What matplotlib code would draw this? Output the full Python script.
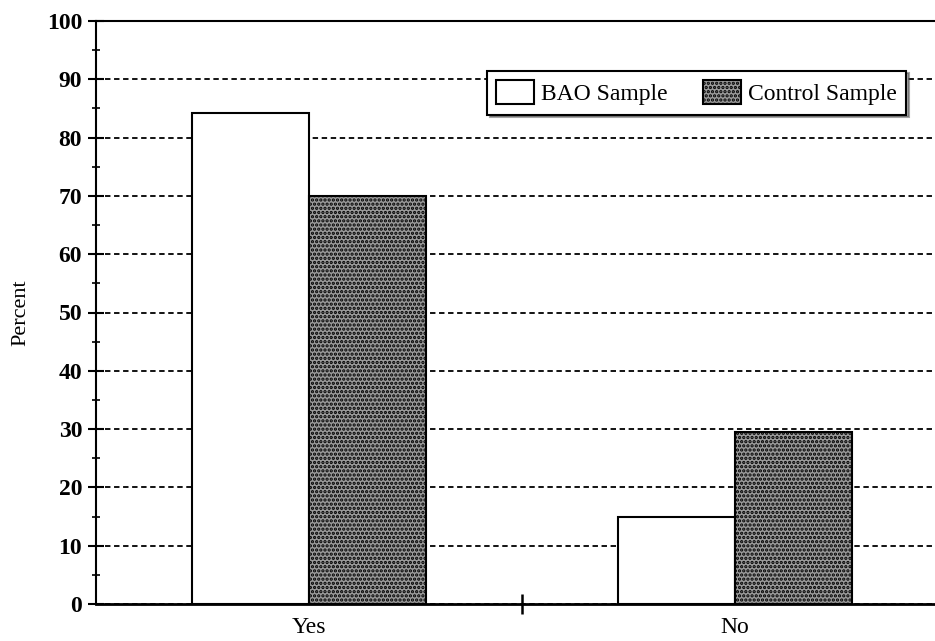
import matplotlib
matplotlib.use("Agg")
import matplotlib.pyplot as plt
from matplotlib.ticker import MultipleLocator

categories = ["Yes", "No"]
bao_sample = [84.3, 14.9]
control_sample = [70.0, 29.5]
series_labels = ["BAO Sample", "Control Sample"]
y_ticks = [0, 10, 20, 30, 40, 50, 60, 70, 80, 90, 100]

plt.rcParams["font.family"] = ["Liberation Serif", "DejaVu Serif"]
plt.rcParams["hatch.linewidth"] = 1.6

fig = plt.figure(figsize=(9.35, 6.41), dpi=100)
ax = fig.add_axes([96 / 935, 37 / 641, 1 - 96 / 935, 583 / 641])

w = 0.275
x = list(range(len(categories)))
ax.bar([i - w / 2 for i in x], bao_sample, width=w, color="white",
       edgecolor="black", linewidth=1.5, label=series_labels[0], zorder=3)
ax.bar([i + w / 2 for i in x], control_sample, width=w, color="#9a9a9a",
       edgecolor="black", hatch="....", linewidth=1.5,
       label=series_labels[1], zorder=3)

ax.set_xlim(-0.5, 1.47)
ax.set_ylim(0, 100)
ax.set_yticks(y_ticks)
ax.yaxis.set_minor_locator(MultipleLocator(5))
ax.tick_params(axis="y", which="major", direction="inout", length=12,
               width=1.5, labelsize=17, pad=4)
ax.tick_params(axis="y", which="minor", direction="inout", length=6, width=1.2)
for lbl in ax.get_yticklabels():
    lbl.set_fontweight("bold")

# category labels sit centered, the only x tick is the divider between groups
ax.set_xticks([0.5])
ax.set_xticklabels([""])
ax.tick_params(axis="x", direction="inout", length=14, width=1.8)
for i, c in enumerate(categories):
    ax.text(i, -2.3, c, ha="center", va="top", fontsize=17,
            transform=ax.transData)

ax.yaxis.grid(True, linestyle=(0, (3, 2)), color="black", linewidth=1.3,
              zorder=0)
ax.set_axisbelow(True)
ax.spines["right"].set_visible(False)
ax.spines["top"].set_linewidth(1.5)
ax.spines["left"].set_linewidth(1.5)
ax.spines["bottom"].set_linewidth(2)

ax.set_ylabel("Percent", fontsize=16, labelpad=12)

leg = ax.legend(loc="upper right", bbox_to_anchor=(0.98, 0.935), ncol=2,
                fontsize=17, frameon=True, fancybox=False, shadow=True,
                handlelength=1.6, handleheight=1.2, columnspacing=1.5,
                borderpad=0.4, handletextpad=0.3)
leg.get_frame().set_edgecolor("black")
leg.get_frame().set_linewidth(1.5)

fig.savefig("out.png", dpi=100)
